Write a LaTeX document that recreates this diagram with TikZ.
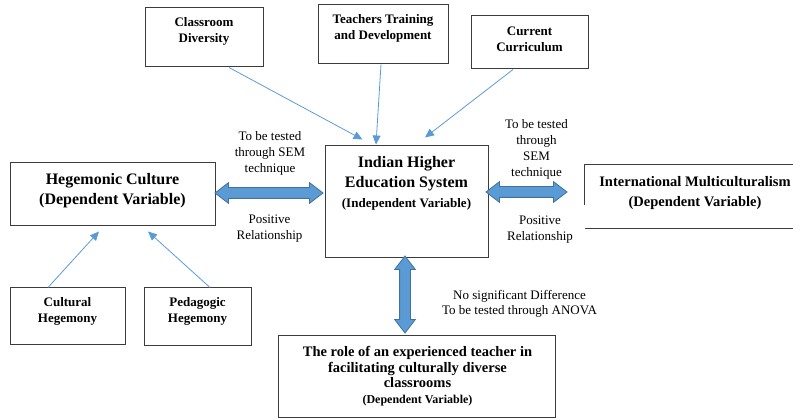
\documentclass[tikz,border=0pt]{standalone}
\usepackage{fontspec}
\setmainfont{Liberation Serif}
\usetikzlibrary{positioning,arrows.meta,shapes.arrows}
\definecolor{boxgray}{HTML}{3C3C3C}
\definecolor{linkblue}{HTML}{5B9BD5}
\definecolor{arrowfill}{HTML}{5B9BD5}
\definecolor{arrowedge}{HTML}{41719C}

\begin{document}
\begin{tikzpicture}[x=1pt, y=-1pt, >={Triangle[length=9pt,width=8pt]}]
% --- Layout & Styles --------------------------------------
\tikzstyle{box}=[draw=boxgray, line width=1pt, inner sep=0];
\tikzstyle{frame}=[inner sep=0];
\tikzstyle{btext}=[font=\bfseries\fontsize{13}{16}\selectfont, align=center, inner sep=0];
\tikzstyle{lbl}=[font=\fontsize{13}{16}\selectfont, align=center, inner sep=0];
\tikzstyle{link}=[draw=linkblue, line width=0.8pt, ->];
\tikzstyle{dblarrow}=[double arrow, draw=arrowedge, fill=arrowfill, line width=0.8pt, inner xsep=0, inner ysep=5pt, double arrow head extend=5pt, double arrow tip angle=75];
\useasboundingbox (0,0) rectangle (793,419);

% --- Boxes ------------------------------------------------
\node[box, minimum width=118, minimum height=59] (cd) at (204,37.5) {};
\node[box, minimum width=130, minimum height=59] (ttd) at (383,34.5) {};
\node[box, minimum width=117, minimum height=53] (cc) at (529.5,42.5) {};
\node[box, minimum width=205, minimum height=63] (hc) at (112.5,194.5) {};
\node[box, minimum width=163, minimum height=112] (ihes) at (406.5,202) {};
\node[frame, minimum width=208, minimum height=63] (im) at (689,196.5) {};
\node[box, minimum width=115, minimum height=57] (ch) at (67.5,316.5) {};
\node[box, minimum width=107, minimum height=58] (ph) at (197.5,317) {};
\node[box, minimum width=277, minimum height=82] (role) at (416.5,377) {};
\draw[boxgray, line width=1pt] (im.north east) -- (im.north west) -- ([shift={(0,40)}]im.north west);
\draw[boxgray, line width=1pt] (im.south west) -- (im.south east);

% --- Box texts --------------------------------------------
\node[btext] (cd-t) at ([shift={(0,-6.5)}]cd.center) {Classroom\\Diversity};
\node[btext] (ttd-t) at ([shift={(0,-6.5)}]ttd.center) {Teachers Training\\and Development};
\node[btext] (cc-t) at ([shift={(0,-3.5)}]cc.center) {Current\\Curriculum};
\node[btext, font=\bfseries\fontsize{16}{20}\selectfont] (hc-t) at ([shift={(0,-3.5)}]hc.center)
  {Hegemonic Culture\\(Dependent Variable)};
\node[btext, font=\bfseries\fontsize{16}{20}\selectfont] (ihes-t) at ([shift={(0,-18.5)}]ihes.center)
  {Indian Higher\\Education System\\{\fontsize{13}{16}\selectfont(Independent Variable)}};
\node[btext, font=\bfseries\fontsize{14.5}{20}\selectfont] (im-t) at ([shift={(6,-3.5)}]im.center)
  {International Multiculturalism\\(Dependent Variable)};
\node[btext] (ch-t) at ([shift={(0,-5.5)}]ch.center) {Cultural\\Hegemony};
\node[btext] (ph-t) at ([shift={(0,-6)}]ph.center) {Pedagogic\\Hegemony};
\node[btext, font=\bfseries\fontsize{14.5}{15.5}\selectfont] (role-t) at ([shift={(1,-1)}]role.center)
  {The role of an experienced teacher in\\facilitating culturally diverse\\classrooms\\{\fontsize{12}{15.5}\selectfont(Dependent Variable)}};

% --- Block arrows -----------------------------------------
\node[dblarrow, minimum height=108] (hc-ihes) at (269,193) {};
\node[dblarrow, minimum height=81] (ihes-im) at (526.5,192) {};
\node[dblarrow, minimum height=77, rotate=90] (ihes-role) at (405,294.5) {};

% --- Arrow labels -----------------------------------------
\node[lbl] (sem-l) at (270,153) {To be tested\\through SEM\\technique};
\node[lbl] (pos-l) at (269.5,229) {Positive\\Relationship};
\node[lbl] (sem-r) at (536.5,149) {To be tested\\through\\SEM\\technique};
\node[lbl] (pos-r) at (540,229.5) {Positive\\Relationship};
\node[lbl, font=\fontsize{13}{15}\selectfont] (anova) at (519.5,303.5)
  {No significant Difference\\To be tested through ANOVA};

% --- Edges ------------------------------------------------
\draw[link] ([shift={(25,0)}]cd.south) -- ([shift={(-44,-6)}]ihes.north);
\draw[link] ([shift={(-2,0)}]ttd.south) -- ([shift={(-30.5,-1)}]ihes.north);
\draw[link] ([shift={(-16.5,0)}]cc.south) -- ([shift={(18.5,-8)}]ihes.north);
\draw[link] ([shift={(-19.5,0)}]ch.north) -- ([shift={(-13.5,5)}]hc.south);
\draw[link] ([shift={(12.5,0)}]ph.north) -- ([shift={(35.5,5)}]hc.south);

\end{tikzpicture}
\end{document}
